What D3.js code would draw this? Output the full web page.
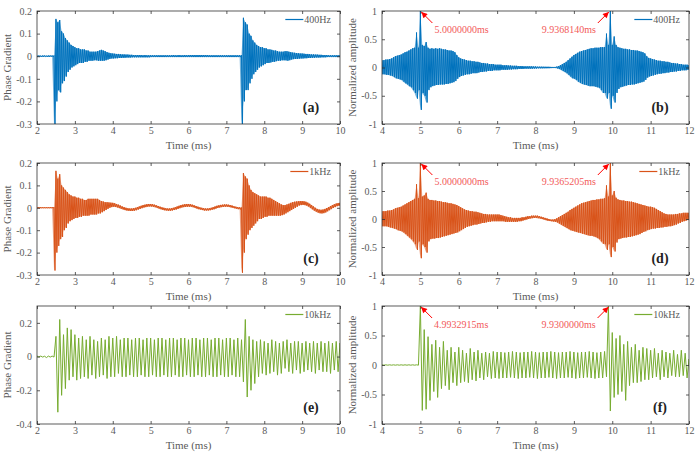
<!DOCTYPE html>
<html>
<head>
<meta charset="utf-8">
<script src="https://cdn.jsdelivr.net/npm/d3@7/dist/d3.min.js"></script>
<style>
  body { margin: 0; background: #fff; }
  text { font-family: "Liberation Serif", "Times New Roman", Times, serif; }
</style>
</head>
<body>
<div id="chart"></div>
<script>
// ---- data ----
// each waveform: upper / lower swing per sample step, starting at the axis minimum
var timeTicksLeft = [2, 3, 4, 5, 6, 7, 8, 9, 10];
var timeTicksRight = [4, 5, 6, 7, 8, 9, 10, 11, 12];
var gradTicks = [-0.3, -0.2, -0.1, 0, 0.1, 0.2];
var grad10kTicks = [-0.4, -0.2, 0, 0.2];
var ampTicks = [-1, -0.5, 0, 0.5, 1];

// (a) 400Hz phase gradient, t = 2..10 step 0.05
var grad400Hi = [0.003,0.003,0.002,0.003,0.003,0.002,0.003,0.003,0.003,0.003,
  0.165,0.15,0.16,0.11,0.1,0.08,0.07,0.06,0.05,0.045,
  0.04,0.035,0.035,0.03,0.03,0.03,0.025,0.025,0.02,0.02,
  0.02,0.02,0.022,0.025,0.028,0.025,0.022,0.018,0.015,0.013,
  0.012,0.011,0.01,0.01,0.009,0.008,0.008,0.007,0.007,0.006,
  0.006,0.005,0.005,0.005,0.005,0.005,0.004,0.005,0.004,0.004,
  0.004,0.004,0.004,0.004,0.004,0.004,0.004,0.004,0.004,0.004,
  0.004,0.004,0.005,0.004,0.004,0.005,0.004,0.004,0.005,0.004,
  0.005,0.005,0.005,0.005,0.005,0.005,0.005,0.005,0.005,0.005,
  0.005,0.004,0.004,0.004,0.004,0.004,0.004,0.004,0.004,0.004,
  0.004,0.004,0.004,0.004,0.004,0.004,0.004,0.004,0.004,0.17,
  0.15,0.14,0.1,0.09,0.07,0.06,0.05,0.045,0.04,0.04,
  0.035,0.035,0.03,0.03,0.028,0.025,0.025,0.022,0.02,0.02,
  0.02,0.022,0.022,0.02,0.018,0.016,0.015,0.014,0.013,0.012,
  0.012,0.011,0.01,0.01,0.009,0.008,0.008,0.007,0.007,0.006,
  0.006,0.005,0.005,0.005,0.004,0.004,0.004,0.004,0.004,0.004,0.004];
var grad400Lo = [-0.003,-0.002,-0.003,-0.003,-0.002,-0.003,-0.003,-0.002,-0.003,-0.31,
  -0.2,-0.15,-0.16,-0.12,-0.11,-0.09,-0.07,-0.06,-0.05,-0.045,
  -0.04,-0.035,-0.03,-0.03,-0.03,-0.025,-0.025,-0.02,-0.02,-0.02,
  -0.018,-0.018,-0.02,-0.02,-0.02,-0.02,-0.018,-0.015,-0.012,-0.01,
  -0.01,-0.009,-0.009,-0.008,-0.008,-0.007,-0.007,-0.006,-0.006,-0.006,
  -0.005,-0.005,-0.005,-0.005,-0.005,-0.005,-0.005,-0.005,-0.005,-0.005,
  -0.004,-0.004,-0.004,-0.004,-0.004,-0.004,-0.004,-0.004,-0.004,-0.004,
  -0.004,-0.004,-0.004,-0.004,-0.004,-0.004,-0.004,-0.004,-0.004,-0.004,
  -0.004,-0.004,-0.004,-0.004,-0.004,-0.004,-0.004,-0.004,-0.004,-0.004,
  -0.004,-0.004,-0.004,-0.004,-0.004,-0.004,-0.004,-0.004,-0.004,-0.004,
  -0.004,-0.004,-0.004,-0.004,-0.004,-0.004,-0.004,-0.004,-0.31,-0.2,
  -0.15,-0.15,-0.12,-0.1,-0.08,-0.07,-0.06,-0.05,-0.045,-0.04,
  -0.035,-0.03,-0.03,-0.028,-0.025,-0.025,-0.022,-0.02,-0.02,-0.018,
  -0.018,-0.018,-0.02,-0.018,-0.015,-0.013,-0.012,-0.012,-0.011,-0.01,
  -0.01,-0.009,-0.009,-0.008,-0.008,-0.007,-0.007,-0.006,-0.006,-0.006,
  -0.005,-0.005,-0.005,-0.004,-0.004,-0.004,-0.004,-0.004,-0.004,-0.004,-0.004];

// (b) 400Hz normalized amplitude, t = 4..12 step 0.05
var amp400Hi = [0.13,0.13,0.14,0.14,0.15,0.16,0.18,0.2,0.21,0.22,
  0.23,0.25,0.27,0.28,0.3,0.32,0.34,0.35,0.62,0.35,
  1.0,0.4,0.38,0.45,0.35,0.33,0.34,0.33,0.34,0.33,
  0.34,0.33,0.32,0.32,0.31,0.3,0.3,0.29,0.27,0.22,
  0.18,0.16,0.15,0.14,0.13,0.12,0.12,0.11,0.11,0.1,
  0.1,0.09,0.08,0.08,0.07,0.07,0.06,0.06,0.06,0.05,
  0.05,0.05,0.05,0.04,0.04,0.04,0.035,0.035,0.03,0.03,
  0.03,0.025,0.025,0.025,0.02,0.02,0.02,0.02,0.02,0.018,
  0.018,0.015,0.015,0.015,0.014,0.013,0.012,0.012,0.011,0.01,
  0.01,0.015,0.025,0.04,0.06,0.08,0.1,0.13,0.16,0.19,
  0.22,0.24,0.26,0.28,0.29,0.3,0.31,0.32,0.33,0.34,
  0.34,0.35,0.35,0.35,0.36,0.36,0.36,0.6,0.4,1.0,
  0.4,0.55,0.4,0.36,0.35,0.34,0.33,0.33,0.32,0.32,
  0.31,0.31,0.3,0.3,0.29,0.28,0.27,0.25,0.2,0.17,
  0.16,0.15,0.14,0.13,0.12,0.12,0.11,0.11,0.1,0.1,
  0.09,0.08,0.08,0.07,0.07,0.06,0.06,0.05,0.05,0.05,0.04];
var amp400Lo = [-0.12,-0.12,-0.13,-0.13,-0.14,-0.15,-0.17,-0.19,-0.2,-0.21,
  -0.22,-0.25,-0.28,-0.3,-0.33,-0.35,-0.4,-0.45,-0.55,-0.4,
  -0.75,-0.45,-0.5,-0.62,-0.4,-0.35,-0.33,-0.32,-0.31,-0.31,
  -0.3,-0.3,-0.3,-0.29,-0.29,-0.28,-0.27,-0.26,-0.24,-0.2,
  -0.17,-0.15,-0.14,-0.13,-0.12,-0.12,-0.11,-0.1,-0.1,-0.1,
  -0.09,-0.08,-0.08,-0.07,-0.07,-0.06,-0.06,-0.06,-0.05,-0.05,
  -0.05,-0.05,-0.04,-0.04,-0.04,-0.04,-0.035,-0.035,-0.03,-0.03,
  -0.03,-0.025,-0.025,-0.025,-0.02,-0.02,-0.02,-0.02,-0.02,-0.018,
  -0.018,-0.015,-0.015,-0.015,-0.014,-0.013,-0.012,-0.012,-0.011,-0.01,
  -0.01,-0.015,-0.025,-0.04,-0.06,-0.08,-0.1,-0.13,-0.16,-0.19,
  -0.2,-0.22,-0.25,-0.27,-0.29,-0.3,-0.31,-0.32,-0.33,-0.33,
  -0.33,-0.34,-0.35,-0.36,-0.4,-0.45,-0.45,-0.55,-0.45,-0.73,
  -0.5,-0.62,-0.45,-0.38,-0.35,-0.34,-0.33,-0.32,-0.31,-0.31,
  -0.3,-0.3,-0.29,-0.28,-0.27,-0.26,-0.25,-0.22,-0.18,-0.16,
  -0.15,-0.14,-0.13,-0.12,-0.11,-0.11,-0.1,-0.1,-0.09,-0.09,
  -0.08,-0.08,-0.07,-0.07,-0.06,-0.06,-0.05,-0.05,-0.05,-0.04,-0.04];

// (c) 1kHz phase gradient, t = 2..10 step 0.05
var grad1kHi = [0.003,0.003,0.003,0.003,0.003,0.003,0.003,0.003,0.003,0.003,
  0.165,0.13,0.15,0.1,0.09,0.08,0.07,0.06,0.055,0.05,
  0.05,0.045,0.045,0.04,0.04,0.035,0.035,0.04,0.04,0.04,
  0.04,0.04,0.04,0.035,0.03,0.028,0.025,0.025,0.024,0.023,
  0.022,0.02,0.017,0.014,0.01,0.006,0.003,0,-0.002,-0.003,
  -0.003,-0.002,0,0.003,0.006,0.009,0.012,0.014,0.016,0.017,
  0.017,0.016,0.014,0.011,0.008,0.005,0.002,0,-0.002,-0.003,
  -0.003,-0.002,0,0.003,0.006,0.009,0.012,0.014,0.016,0.017,
  0.017,0.016,0.014,0.011,0.008,0.005,0.002,0,-0.002,-0.003,
  -0.003,-0.002,0,0.003,0.006,0.009,0.011,0.013,0.014,0.015,
  0.015,0.014,0.012,0.01,0.007,0.005,0.003,0.002,0.001,0.155,
  0.14,0.13,0.1,0.08,0.07,0.065,0.06,0.055,0.05,0.05,
  0.05,0.05,0.045,0.045,0.04,0.035,0.03,0.025,0.02,0.015,
  0.012,0.012,0.015,0.018,0.022,0.025,0.027,0.028,0.029,0.03,
  0.03,0.029,0.027,0.023,0.018,0.012,0.006,0,-0.005,-0.008,
  -0.009,-0.008,-0.005,-0.001,0.003,0.008,0.012,0.016,0.019,0.021,0.022];
var grad1kLo = [-0.002,-0.002,-0.002,-0.002,-0.002,-0.002,-0.002,-0.002,-0.002,-0.28,
  -0.2,-0.17,-0.14,-0.13,-0.1,-0.09,-0.07,-0.06,-0.055,-0.05,
  -0.045,-0.045,-0.04,-0.04,-0.035,-0.035,-0.035,-0.035,-0.03,-0.03,
  -0.03,-0.03,-0.025,-0.025,-0.02,-0.015,-0.01,-0.005,0,0.003,
  0.005,0.004,0.002,-0.001,-0.004,-0.007,-0.01,-0.012,-0.013,-0.014,
  -0.014,-0.013,-0.011,-0.008,-0.005,-0.002,0.001,0.003,0.005,0.006,
  0.006,0.005,0.003,0,-0.003,-0.006,-0.009,-0.011,-0.012,-0.013,
  -0.013,-0.012,-0.01,-0.008,-0.005,-0.002,0.001,0.003,0.004,0.005,
  0.005,0.005,0.003,0,-0.003,-0.006,-0.008,-0.01,-0.012,-0.012,
  -0.012,-0.011,-0.009,-0.007,-0.004,-0.001,0.001,0.003,0.004,0.005,
  0.005,0.004,0.002,0,-0.002,-0.004,-0.006,-0.007,-0.29,-0.2,
  -0.14,-0.12,-0.1,-0.09,-0.08,-0.07,-0.06,-0.05,-0.05,-0.045,
  -0.04,-0.04,-0.035,-0.035,-0.035,-0.035,-0.035,-0.035,-0.035,-0.033,
  -0.03,-0.025,-0.02,-0.015,-0.01,-0.005,0,0.005,0.01,0.012,
  0.013,0.012,0.01,0.006,0,-0.006,-0.012,-0.017,-0.021,-0.024,
  -0.025,-0.024,-0.021,-0.016,-0.011,-0.006,-0.001,0.003,0.007,0.009,0.01];

// (d) 1kHz normalized amplitude, t = 4..12 step 0.05
var amp1kHi = [0.14,0.14,0.14,0.15,0.15,0.16,0.17,0.19,0.2,0.21,
  0.22,0.24,0.26,0.28,0.3,0.32,0.34,0.36,0.62,0.37,
  1.0,0.4,0.42,0.47,0.36,0.34,0.34,0.33,0.33,0.32,
  0.32,0.31,0.3,0.3,0.29,0.28,0.28,0.27,0.26,0.25,
  0.23,0.21,0.19,0.17,0.16,0.15,0.14,0.14,0.13,0.13,
  0.12,0.11,0.1,0.09,0.09,0.08,0.08,0.08,0.08,0.08,
  0.08,0.08,0.07,0.06,0.05,0.04,0.03,0.03,0.02,0.02,
  0.02,0.02,0.02,0.03,0.03,0.04,0.05,0.05,0.06,0.06,
  0.06,0.06,0.05,0.04,0.03,0.02,0.01,0,-0.01,-0.01,
  -0.005,0.01,0.03,0.05,0.07,0.09,0.11,0.13,0.16,0.18,
  0.2,0.22,0.24,0.26,0.28,0.29,0.3,0.31,0.32,0.33,
  0.34,0.34,0.35,0.35,0.36,0.36,0.37,0.6,0.4,1.0,
  0.42,0.5,0.38,0.35,0.34,0.33,0.33,0.32,0.32,0.31,
  0.31,0.3,0.29,0.28,0.27,0.26,0.25,0.24,0.23,0.22,
  0.22,0.21,0.2,0.18,0.16,0.14,0.12,0.1,0.09,0.08,
  0.08,0.08,0.08,0.09,0.09,0.1,0.1,0.11,0.11,0.11,0.11];
var amp1kLo = [-0.13,-0.13,-0.13,-0.14,-0.15,-0.16,-0.17,-0.18,-0.2,-0.21,
  -0.22,-0.24,-0.27,-0.3,-0.33,-0.36,-0.4,-0.45,-0.55,-0.4,
  -0.7,-0.45,-0.5,-0.6,-0.4,-0.36,-0.35,-0.35,-0.34,-0.34,
  -0.33,-0.32,-0.31,-0.3,-0.29,-0.28,-0.27,-0.26,-0.25,-0.24,
  -0.22,-0.2,-0.18,-0.16,-0.14,-0.13,-0.12,-0.11,-0.1,-0.1,
  -0.09,-0.08,-0.07,-0.07,-0.06,-0.05,-0.05,-0.04,-0.04,-0.04,
  -0.04,-0.04,-0.04,-0.04,-0.05,-0.05,-0.05,-0.05,-0.05,-0.05,
  -0.05,-0.04,-0.04,-0.03,-0.02,-0.01,0,0.01,0.015,0.02,
  0.02,0.015,0.01,0,-0.01,-0.02,-0.03,-0.035,-0.04,-0.045,
  -0.05,-0.06,-0.08,-0.1,-0.12,-0.14,-0.16,-0.18,-0.2,-0.21,
  -0.22,-0.23,-0.24,-0.25,-0.26,-0.27,-0.28,-0.29,-0.3,-0.3,
  -0.31,-0.32,-0.34,-0.36,-0.4,-0.44,-0.45,-0.55,-0.45,-0.68,
  -0.5,-0.58,-0.42,-0.36,-0.35,-0.34,-0.33,-0.33,-0.32,-0.32,
  -0.31,-0.3,-0.29,-0.28,-0.27,-0.25,-0.23,-0.22,-0.2,-0.19,
  -0.18,-0.17,-0.17,-0.16,-0.16,-0.15,-0.15,-0.14,-0.14,-0.13,
  -0.13,-0.12,-0.11,-0.1,-0.08,-0.07,-0.05,-0.04,-0.03,-0.02,-0.02];

// (e) 10kHz phase gradient, t = 2..10 step 0.1
var grad10kHi = [0.003,0.003,0.002,0.003,0.003,0.12,0.22,0.13,0.17,0.16,
  0.13,0.11,0.12,0.1,0.12,0.1,0.09,0.11,0.1,0.12,
  0.11,0.12,0.1,0.11,0.11,0.1,0.11,0.11,0.1,0.11,
  0.11,0.1,0.11,0.11,0.1,0.11,0.11,0.1,0.11,0.11,
  0.1,0.11,0.11,0.1,0.11,0.11,0.1,0.11,0.11,0.1,
  0.11,0.11,0.1,0.11,0.1,0.22,0.12,0.1,0.09,0.1,
  0.09,0.08,0.1,0.09,0.08,0.09,0.1,0.08,0.09,0.09,
  0.08,0.09,0.08,0.09,0.08,0.09,0.08,0.09,0.08,0.09,0.08];
var grad10kLo = [-0.002,-0.003,-0.006,-0.003,-0.003,-0.33,-0.23,-0.19,-0.14,-0.12,
  -0.14,-0.13,-0.12,-0.13,-0.11,-0.13,-0.12,-0.11,-0.13,-0.12,
  -0.12,-0.1,-0.12,-0.12,-0.11,-0.12,-0.12,-0.11,-0.12,-0.12,
  -0.11,-0.12,-0.12,-0.11,-0.12,-0.12,-0.11,-0.12,-0.12,-0.11,
  -0.12,-0.12,-0.11,-0.12,-0.12,-0.11,-0.12,-0.12,-0.11,-0.12,
  -0.12,-0.11,-0.12,-0.12,-0.15,-0.24,-0.2,-0.16,-0.12,-0.1,
  -0.11,-0.1,-0.09,-0.11,-0.1,-0.07,-0.09,-0.1,-0.08,-0.1,
  -0.09,-0.08,-0.09,-0.1,-0.08,-0.09,-0.09,-0.1,-0.08,-0.09,-0.09];

// (f) 10kHz normalized amplitude, t = 4..12 step 0.1
var amp10kHi = [0.003,0.003,0.003,0.003,0.003,0.003,0.003,0.003,0.003,0.003,
  1.0,0.6,0.48,0.35,0.42,0.3,0.4,0.25,0.3,0.22,
  0.3,0.25,0.2,0.28,0.22,0.25,0.2,0.22,0.2,0.23,
  0.22,0.22,0.21,0.22,0.23,0.22,0.21,0.22,0.22,0.23,
  0.22,0.21,0.22,0.22,0.23,0.22,0.21,0.22,0.22,0.23,
  0.22,0.21,0.22,0.22,0.23,0.22,0.21,0.22,0.23,1.0,
  0.55,0.45,0.5,0.35,0.4,0.3,0.35,0.25,0.3,0.28,
  0.25,0.28,0.2,0.25,0.22,0.2,0.25,0.18,0.25,0.2,0.1];
var amp10kLo = [-0.003,-0.003,-0.003,-0.003,-0.003,-0.003,-0.003,-0.003,-0.003,-0.003,
  -0.77,-0.75,-0.6,-0.45,-0.55,-0.4,-0.35,-0.42,-0.3,-0.35,
  -0.3,-0.28,-0.3,-0.25,-0.27,-0.22,-0.25,-0.2,-0.23,-0.22,
  -0.23,-0.22,-0.22,-0.21,-0.22,-0.23,-0.22,-0.22,-0.21,-0.22,
  -0.23,-0.22,-0.22,-0.21,-0.22,-0.23,-0.22,-0.22,-0.21,-0.22,
  -0.23,-0.22,-0.22,-0.21,-0.22,-0.23,-0.22,-0.22,-0.2,-0.78,
  -0.55,-0.5,-0.45,-0.6,-0.35,-0.3,-0.3,-0.28,-0.25,-0.25,
  -0.22,-0.2,-0.25,-0.2,-0.22,-0.18,-0.2,-0.2,-0.18,-0.22,-0.2];

// peak markers
var peaks400 = [5.0, 9.936814];
var peakLabels400 = ["5.0000000ms", "9.9368140ms"];
var peaks1k = [5.0, 9.9365205];
var peakLabels1k = ["5.0000000ms", "9.9365205ms"];
var peaks10k = [4.9932915, 9.93];
var peakLabels10k = ["4.9932915ms", "9.9300000ms"];

// ---- layout ----
var width = 700, height = 458;
var cols = [{x0: 37, x1: 340}, {x0: 382, x1: 689}];
var rows = [{y0: 11, y1: 124}, {y0: 163, y1: 275}, {y0: 306, y1: 424}];
var blue = "#0072BD", orange = "#D95319", green = "#77AC30";
var textColor = "#5a5a5a";

var panels = [
  {tag: "(a)", col: 0, row: 0, t0: 2, dt: 0.05, hi: grad400Hi, lo: grad400Lo, xd: [2, 10], yd: [-0.3, 0.2],
   xt: timeTicksLeft, yt: gradTicks, color: blue, name: "400Hz", ylabel: "Phase Gradient"},
  {tag: "(b)", col: 1, row: 0, t0: 4, dt: 0.05, hi: amp400Hi, lo: amp400Lo, xd: [4, 12], yd: [-1, 1],
   xt: timeTicksRight, yt: ampTicks, color: blue, name: "400Hz", ylabel: "Normalized amplitude",
   peaks: peaks400, labels: peakLabels400},
  {tag: "(c)", col: 0, row: 1, t0: 2, dt: 0.05, hi: grad1kHi, lo: grad1kLo, xd: [2, 10], yd: [-0.3, 0.2],
   xt: timeTicksLeft, yt: gradTicks, color: orange, name: "1kHz", ylabel: "Phase Gradient"},
  {tag: "(d)", col: 1, row: 1, t0: 4, dt: 0.05, hi: amp1kHi, lo: amp1kLo, xd: [4, 12], yd: [-1, 1],
   xt: timeTicksRight, yt: ampTicks, color: orange, name: "1kHz", ylabel: "Normalized amplitude",
   peaks: peaks1k, labels: peakLabels1k},
  {tag: "(e)", col: 0, row: 2, t0: 2, dt: 0.1, hi: grad10kHi, lo: grad10kLo, xd: [2, 10], yd: [-0.4, 0.3],
   xt: timeTicksLeft, yt: grad10kTicks, color: green, name: "10kHz", ylabel: "Phase Gradient"},
  {tag: "(f)", col: 1, row: 2, t0: 4, dt: 0.1, hi: amp10kHi, lo: amp10kLo, xd: [4, 12], yd: [-1, 1],
   xt: timeTicksRight, yt: ampTicks, color: green, name: "10kHz", ylabel: "Normalized amplitude",
   peaks: peaks10k, labels: peakLabels10k}
];

var svg = d3.select("#chart").append("svg")
  .attr("width", width)
  .attr("height", height);

var defs = svg.append("defs");
defs.append("marker")
  .attr("id", "head")
  .attr("viewBox", "0 0 10 10")
  .attr("refX", 10).attr("refY", 5)
  .attr("markerWidth", 7).attr("markerHeight", 6)
  .attr("markerUnits", "userSpaceOnUse")
  .attr("orient", "auto")
  .append("path").attr("d", "M0,0L10,5L0,10Z").attr("fill", "#ff0000");

function fmt(v) { return String(+v.toFixed(2)); }

panels.forEach(function(p, k) {
  var c = cols[p.col], r = rows[p.row];
  var x = d3.scaleLinear().domain(p.xd).range([c.x0, c.x1]);
  var y = d3.scaleLinear().domain(p.yd).range([r.y1, r.y0]);
  var g = svg.append("g");

  defs.append("clipPath").attr("id", "clip" + k)
    .append("rect").attr("x", c.x0).attr("y", r.y0)
    .attr("width", c.x1 - c.x0).attr("height", r.y1 - r.y0);

  // waveform: upper swing then lower swing for each step
  var pts = [];
  p.hi.forEach(function(v, i) {
    var t = p.t0 + i * p.dt;
    pts.push([t, v]);
    pts.push([t + p.dt / 2, p.lo[i]]);
  });

  // dense records render as a near-solid band in the figure
  if (p.dt < 0.1) {
    g.append("path").datum(p.hi)
      .attr("clip-path", "url(#clip" + k + ")")
      .attr("fill", p.color).attr("fill-opacity", 0.55)
      .attr("d", d3.area()
        .x(function(d, i) { return x(p.t0 + i * p.dt); })
        .y0(function(d, i) { return y(p.lo[i]); })
        .y1(function(d) { return y(d); }));
  }
  g.append("path").datum(pts)
    .attr("clip-path", "url(#clip" + k + ")")
    .attr("fill", "none")
    .attr("stroke", p.color)
    .attr("stroke-width", 1)
    .attr("stroke-linejoin", "round")
    .attr("d", d3.line().x(function(d) { return x(d[0]); }).y(function(d) { return y(d[1]); }));

  // axes, ticks pointing inward on all four sides
  var axes = [
    {a: d3.axisBottom(x).tickValues(p.xt).tickFormat(fmt).tickPadding(3), t: "translate(0," + r.y1 + ")"},
    {a: d3.axisTop(x).tickValues(p.xt).tickFormat(""), t: "translate(0," + r.y0 + ")"},
    {a: d3.axisLeft(y).tickValues(p.yt).tickFormat(fmt).tickPadding(5), t: "translate(" + c.x0 + ",0)"},
    {a: d3.axisRight(y).tickValues(p.yt).tickFormat(""), t: "translate(" + c.x1 + ",0)"}
  ];
  axes.forEach(function(ax) {
    var ag = g.append("g").attr("transform", ax.t)
      .call(ax.a.tickSizeInner(-3).tickSizeOuter(0));
    ag.select(".domain").remove();
    ag.attr("font-family", null).attr("font-size", 10).attr("color", textColor);
    ag.selectAll("line").attr("stroke", "#333").attr("stroke-width", 0.8);
  });
  g.append("rect")
    .attr("x", c.x0).attr("y", r.y0)
    .attr("width", c.x1 - c.x0).attr("height", r.y1 - r.y0)
    .attr("fill", "none").attr("stroke", "#333").attr("stroke-width", 0.8);

  // axis titles
  g.append("text")
    .attr("x", (c.x0 + c.x1) / 2).attr("y", r.y1 + 25)
    .attr("text-anchor", "middle").attr("font-size", 11).attr("fill", textColor)
    .text("Time (ms)");
  g.append("text")
    .attr("transform", "translate(" + (c.x0 - 26) + "," + ((r.y0 + r.y1) / 2) + ") rotate(-90)")
    .attr("text-anchor", "middle").attr("font-size", 11).attr("fill", textColor)
    .text(p.ylabel);

  // legend
  var lg = g.append("g");
  var lt = lg.append("text")
    .attr("x", c.x1 - 9).attr("y", r.y0 + 8.5)
    .attr("dy", "0.35em").attr("text-anchor", "end")
    .attr("font-size", 10).attr("fill", textColor)
    .text(p.name);
  var tw = lt.node().getComputedTextLength();
  lg.append("line")
    .attr("x1", c.x1 - 9 - tw - 19).attr("x2", c.x1 - 9 - tw - 1)
    .attr("y1", r.y0 + 8.5).attr("y2", r.y0 + 8.5)
    .attr("stroke", p.color).attr("stroke-width", 1.2);

  // panel tag
  g.append("text")
    .attr("x", c.x1 - 29).attr("y", r.y1 - 16.5)
    .attr("dy", "0.35em").attr("text-anchor", "middle")
    .attr("font-size", 14).attr("font-weight", "bold").attr("fill", "#222")
    .text(p.tag);

  // peak annotations
  if (p.peaks) {
    p.peaks.forEach(function(t, j) {
      var px = x(t), py = y(1);
      var side = j === 0 ? 1 : -1;
      g.append("line")
        .attr("x1", px + side * 12).attr("y1", py + 12)
        .attr("x2", px + side * 1).attr("y2", py + 1)
        .attr("stroke", "#ff0000").attr("stroke-width", 1)
        .attr("marker-end", "url(#head)");
      g.append("text")
        .attr("x", px + side * 14).attr("y", py + 18)
        .attr("dy", "0.35em")
        .attr("text-anchor", j === 0 ? "start" : "end")
        .attr("font-size", 10).attr("fill", "#f25a5a")
        .text(p.labels[j]);
    });
  }
});
</script>
</body>
</html>
